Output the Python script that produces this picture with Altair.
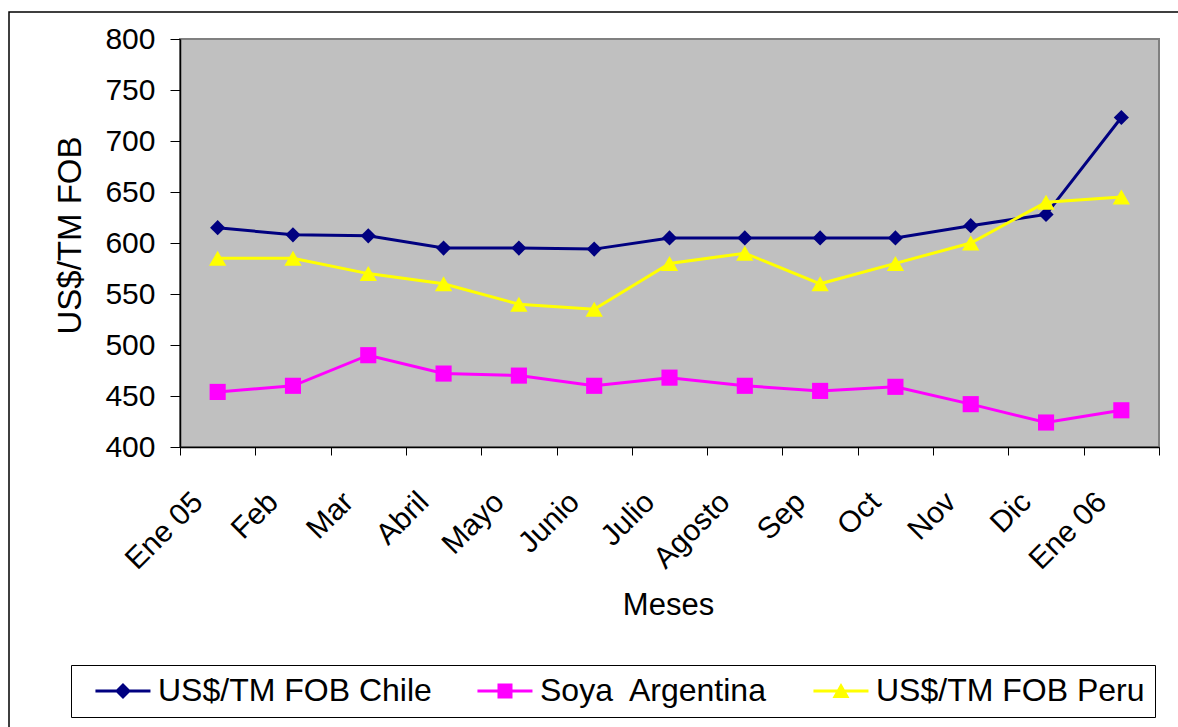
import altair as alt
import pandas as pd

# Monthly FOB prices (US$/TM), Jan 2005 - Jan 2006
meses = ["Ene 05", "Feb", "Mar", "Abril", "Mayo", "Junio", "Julio",
         "Agosto", "Sep", "Oct", "Nov", "Dic", "Ene 06"]
chile = [615, 608, 607, 595, 595, 594, 605, 605, 605, 605, 617, 628, 723]
soya_argentina = [454, 460, 490, 472, 470, 460, 468, 460, 455, 459, 442, 424, 436]
peru = [585, 585, 570, 560, 540, 535, 580, 590, 560, 580, 600, 640, 645]

series = ["US$/TM FOB Chile", "Soya\u00a0 Argentina", "US$/TM FOB Peru"]
colors = ["#000080", "#FF00FF", "#FFFF00"]
shapes = ["diamond", "square", "triangle-up"]
sizes = [230, 260, 300]

# legend symbols: a short filled bar with the series marker in its middle
_bar = "M-1,0M-0.1,-0.1H3.45V0.1H-0.1Z"
legend_shapes = [
    _bar + "M1.677,-0.516L2.193,0L1.677,0.516L1.161,0Z",
    _bar + "M1.193,-0.484H2.161V0.484H1.193Z",
    _bar + "M1.677,-0.516L2.225,0.45L1.129,0.45Z",
]

rows = []
for k, (name, vals) in enumerate(zip(series, [chile, soya_argentina, peru])):
    for m, v in zip(meses, vals):
        rows.append({"mes": m, "valor": v, "serie": name, "orden": k})
df = pd.DataFrame(rows)

FONT = "Liberation Sans"

x_enc = alt.X(
    "mes:N",
    sort=meses,
    scale=alt.Scale(type="band", paddingInner=0, paddingOuter=0),
    axis=alt.Axis(
        title="Meses",
        titleFontSize=31,
        titleFontWeight="normal",
        titleFont=FONT,
        titleX=488,
        titleY=158,
        titleBaseline="middle",
        labelAngle=-45,
        labelAlign="right",
        labelBaseline="middle",
        labelFontSize=30,
        labelFont=FONT,
        labelColor="black",
        labelPadding=42,
        labelOffset=-20,
        tickBand="extent",
        tickSize=8,
        tickColor="black",
        domainColor="black",
        domainWidth=1.5,
        grid=False,
    ),
)
y_enc = alt.Y(
    "valor:Q",
    scale=alt.Scale(domain=[400, 800], nice=False, zero=False),
    axis=alt.Axis(
        title="US$/TM FOB",
        titleFontSize=33,
        titleFontWeight="normal",
        titleFont=FONT,
        titleX=-110,
        titleY=196,
        titleBaseline="middle",
        titleAngle=-90,
        values=list(range(400, 801, 50)),
        labelFontSize=30,
        labelFont=FONT,
        labelColor="black",
        labelPadding=15,
        tickSize=10,
        tickColor="black",
        domainColor="black",
        domainWidth=1.5,
        grid=False,
    ),
)

base = alt.Chart(df)

# one line layer and one marker layer per series
series_layers = []
for name, shp, sz, col in zip(series, shapes, sizes, colors):
    sub = base.transform_filter(alt.datum.serie == name)
    series_layers.append(
        sub.mark_line(strokeWidth=3, color=col).encode(x=x_enc, y=y_enc)
    )
    series_layers.append(
        sub.mark_point(filled=True, opacity=1, shape=shp, size=sz, color=col)
        .encode(x=x_enc, y=y_enc)
    )

legend_cfg = alt.Legend(
    title=None,
    orient="none",
    legendX=-109,
    legendY=626,
    direction="horizontal",
    strokeColor="black",
    fillColor="white",
    padding=10,
    labelFontSize=32,
    labelFont=FONT,
    labelColor="black",
    labelLimit=600,
    labelOffset=45,
    symbolSize=961,
    symbolStrokeWidth=0,
    columnPadding=31,
)
# layer that only carries the legend; its points sit outside the canvas
legend_layer = base.mark_point(filled=True, size=961, opacity=1).encode(
    x=alt.value(-1000),
    y=alt.value(-1000),
    color=alt.Color("serie:N", scale=alt.Scale(domain=series, range=colors), legend=legend_cfg),
    shape=alt.Shape("serie:N", scale=alt.Scale(domain=series, range=legend_shapes), legend=legend_cfg),
)

# outer chart frame
frame = alt.Chart(pd.DataFrame({"k": [0]})).mark_rect(
    fill=None, stroke="black", strokeWidth=1.5
).encode(
    x=alt.value(-171), x2=alt.value(1030), y=alt.value(-27), y2=alt.value(800)
)

chart = alt.layer(frame, legend_layer, *series_layers).properties(
    width=979,
    height=408,
    background="white",
    padding={"left": 180, "top": 39, "right": 19, "bottom": 280},
    autosize=alt.AutoSizeParams(type="none"),
).configure_view(
    fill="#C0C0C0", stroke="#808080", strokeWidth=2
)

chart.save("out.html", embed_options={"renderer": "svg", "actions": False})
